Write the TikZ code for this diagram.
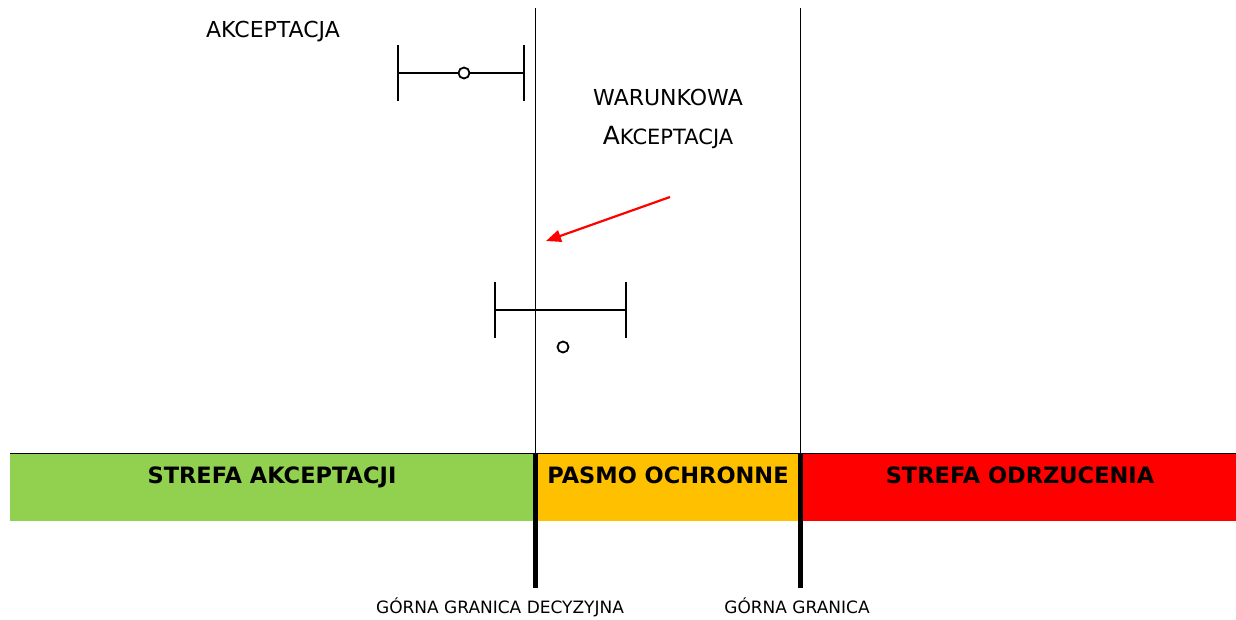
\documentclass[tikz,border=0pt]{standalone}
\usepackage{fontspec}
\setmainfont{DejaVu Sans}
\usetikzlibrary{arrows.meta}
\definecolor{accept}{RGB}{146,208,80}
\definecolor{guard}{RGB}{255,192,0}
\definecolor{reject}{RGB}{255,0,0}
\newcommand{\drawthick}{\draw[line width=5pt]}
\newcommand{\drawthin}{\draw[line width=0.9pt]}
% error bar: left x, right x, y
\newcommand{\drawbar}[3]{
    \draw[line width=2.5pt] (#1,#3-28)--(#1,#3+28);
    \draw[line width=2.5pt] (#2,#3-28)--(#2,#3+28);
}
\tikzset{
  lbl/.style={font=\fontsize{22}{26}\selectfont, anchor=base, inner sep=0pt},
  zone/.style={font=\bfseries\fontsize{22.5}{26}\selectfont, anchor=base, inner sep=0pt},
  limit/.style={font=\fontsize{17}{20}\selectfont, anchor=base, inner sep=0pt},
  dot/.style={circle, draw, fill=white, line width=1.8pt, inner sep=0pt, minimum size=11pt},
  pointer/.style={draw=reject, line width=2.2pt, -{Triangle[length=15pt,width=12pt]}}
}

\begin{document}
\begin{tikzpicture}[x=1pt,y=-1pt]
\useasboundingbox (0,0) rectangle (1236,619);
% zones
\fill[accept] (10,453) rectangle (535,521);
\fill[guard] (535,453) rectangle (800,521);
\fill[reject] (800,453) rectangle (1236,521);
\drawthin (10,453)--(1236,453);
\foreach \x in {535,800}{
    \drawthin (\x,8)--(\x,453);
    \drawthick (\x,453)--(\x,588);
}
\node[zone] (zacc) at (272,483) {STREFA AKCEPTACJI};
\node[zone] (zguard) at (668,483) {PASMO OCHRONNE};
\node[zone] (zrej) at (1020,483) {STREFA ODRZUCENIA};
\node[limit] (ugdl) at (500,613) {GÓRNA GRANICA DECYZYJNA};
\node[limit] (ul) at (797,613) {GÓRNA GRANICA};
% accepted result
\node[lbl] (acc) at (273,37) {AKCEPTACJA};
\drawbar{398}{524}{73}
\node[dot] (meanA) at (464,73) {};
\draw[line width=2.5pt] (398,73)--(meanA) (meanA)--(524,73);
% conditional result
\node[lbl] (cond1) at (668,105) {WARUNKOWA};
\node[lbl] (cond2) at (668,144) {{\fontsize{25}{26}\selectfont A}{\fontsize{21}{26}\selectfont KCEPTACJA}};
\drawbar{495}{626}{310}
\draw[line width=2.5pt] (495,310)--(626,310);
\node[dot] (meanB) at (563,347) {};
\coordinate (tail) at (670,197);
\coordinate (head) at (546,241);
\draw[pointer] (tail)--(head);
\end{tikzpicture}
\end{document}
